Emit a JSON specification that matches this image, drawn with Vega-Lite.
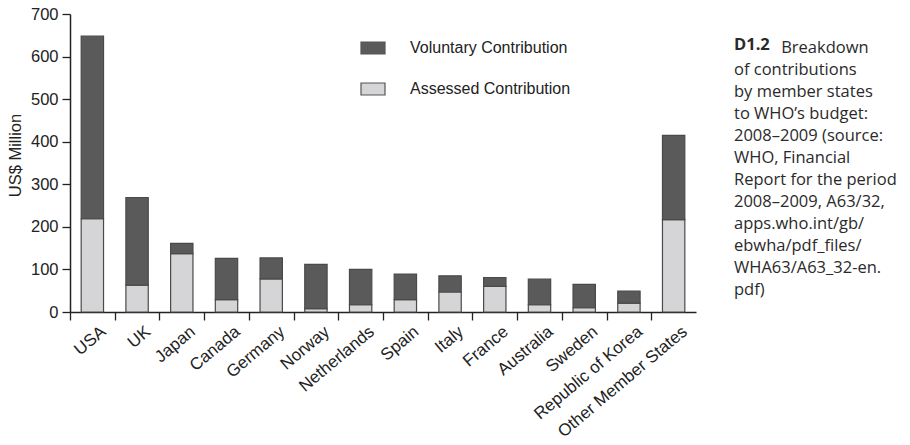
{
  "$schema": "https://vega.github.io/schema/vega-lite/v6.json",
  "autosize": "none",
  "width": 626,
  "height": 298,
  "padding": {"left": 70, "top": 14, "right": 214, "bottom": 133},
  "background": "white",
  "title": {
    "text": "D1.2",
    "subtitle": ["\u200b\u00a0\u00a0\u00a0\u00a0\u00a0\u00a0\u00a0\u00a0\u00a0\u00a0\u00a0Breakdown", "of contributions", "by member states", "to WHO’s budget:", "2008–2009 (source:", "WHO, Financial", "Report for the period", "2008–2009, A63/32,", "apps.who.int/gb/", "ebwha/pdf_files/", "WHA63/A63_32-en.", "pdf)"],
    "orient": "top",
    "anchor": "start",
    "frame": "group",
    "dx": 664,
    "dy": 296,
    "font": "Open Sans",
    "fontSize": 16.5,
    "fontWeight": "bold",
    "color": "#2a2a2a",
    "subtitleFont": "Open Sans",
    "subtitleFontSize": 16.5,
    "subtitleColor": "#2a2a2a",
    "subtitleLineHeight": 22,
    "subtitlePadding": -14,
    "lineHeight": 22
  },
  "data": {
    "values": [
      {"country": "USA", "type": "Assessed Contribution", "value": 219},
      {"country": "USA", "type": "Voluntary Contribution", "value": 429},
      {"country": "UK", "type": "Assessed Contribution", "value": 63},
      {"country": "UK", "type": "Voluntary Contribution", "value": 206},
      {"country": "Japan", "type": "Assessed Contribution", "value": 137},
      {"country": "Japan", "type": "Voluntary Contribution", "value": 24},
      {"country": "Canada", "type": "Assessed Contribution", "value": 29},
      {"country": "Canada", "type": "Voluntary Contribution", "value": 97},
      {"country": "Germany", "type": "Assessed Contribution", "value": 78},
      {"country": "Germany", "type": "Voluntary Contribution", "value": 49},
      {"country": "Norway", "type": "Assessed Contribution", "value": 8},
      {"country": "Norway", "type": "Voluntary Contribution", "value": 104},
      {"country": "Netherlands", "type": "Assessed Contribution", "value": 17},
      {"country": "Netherlands", "type": "Voluntary Contribution", "value": 83},
      {"country": "Spain", "type": "Assessed Contribution", "value": 29},
      {"country": "Spain", "type": "Voluntary Contribution", "value": 60},
      {"country": "Italy", "type": "Assessed Contribution", "value": 47},
      {"country": "Italy", "type": "Voluntary Contribution", "value": 38},
      {"country": "France", "type": "Assessed Contribution", "value": 60},
      {"country": "France", "type": "Voluntary Contribution", "value": 21},
      {"country": "Australia", "type": "Assessed Contribution", "value": 17},
      {"country": "Australia", "type": "Voluntary Contribution", "value": 60},
      {"country": "Sweden", "type": "Assessed Contribution", "value": 10},
      {"country": "Sweden", "type": "Voluntary Contribution", "value": 55},
      {"country": "Republic of Korea", "type": "Assessed Contribution", "value": 21},
      {"country": "Republic of Korea", "type": "Voluntary Contribution", "value": 28},
      {"country": "Other Member States", "type": "Assessed Contribution", "value": 217},
      {"country": "Other Member States", "type": "Voluntary Contribution", "value": 198}
    ]
  },
  "mark": {"type": "bar", "stroke": "#4a4a4a", "strokeWidth": 1.2},
  "encoding": {
    "x": {
      "field": "country",
      "type": "nominal",
      "sort": null,
      "scale": {"paddingInner": 0.5, "paddingOuter": 0.25},
      "axis": {
        "title": null,
        "labelAngle": -40,
        "labelFont": "Liberation Sans",
        "labelFontSize": 17,
        "labelColor": "#222",
        "labelPadding": 3,
        "labelLimit": 300,
        "tickOffset": -22.35,
        "labelOffset": 28,
        "tickSize": 8,
        "tickColor": "#222",
        "tickWidth": 1.3,
        "domainColor": "#222",
        "domainWidth": 1.5,
        "grid": false
      }
    },
    "y": {
      "field": "value",
      "type": "quantitative",
      "stack": "zero",
      "scale": {"domain": [0, 700], "nice": false},
      "axis": {
        "title": "US$ Million",
        "titleFont": "Liberation Sans",
        "titleFontSize": 16.5,
        "titleFontWeight": "normal",
        "titleColor": "#222",
        "titlePadding": 7,
        "titleY": 141,
        "values": [0, 100, 200, 300, 400, 500, 600, 700],
        "labelFont": "Liberation Sans",
        "labelFontSize": 16.5,
        "labelColor": "#222",
        "labelPadding": 4,
        "tickSize": 8,
        "tickColor": "#222",
        "tickWidth": 1.3,
        "domainColor": "#222",
        "domainWidth": 1.5,
        "grid": false
      }
    },
    "color": {
      "field": "type",
      "type": "nominal",
      "scale": {"domain": ["Voluntary Contribution", "Assessed Contribution"], "range": ["#5a5a5a", "#d5d5d7"]},
      "legend": {
        "title": null,
        "orient": "none",
        "legendX": 290,
        "legendY": 21,
        "symbolType": "M-1,-0.5H1V0.5H-1Z",
        "symbolSize": 576,
        "symbolStrokeColor": "#555",
        "symbolStrokeWidth": 1.2,
        "labelFont": "Liberation Sans",
        "labelFontSize": 16,
        "labelColor": "#222",
        "labelOffset": 24,
        "labelLimit": 400,
        "rowPadding": 19,
        "padding": 0
      }
    },
    "order": {"field": "type", "sort": "ascending"}
  },
  "config": {"view": {"stroke": null}}
}
